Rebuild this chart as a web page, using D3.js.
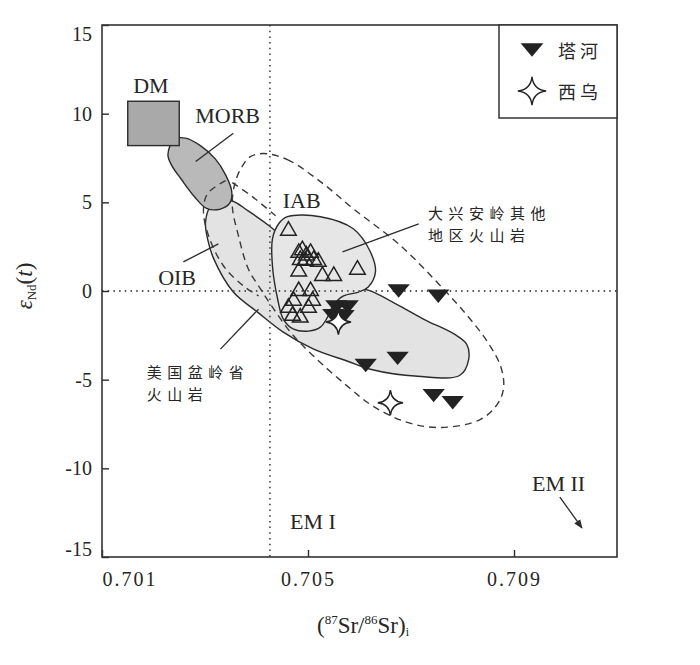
<!DOCTYPE html>
<html lang="zh">
<head>
<meta charset="UTF-8" />
<title>εNd(t) - (87Sr/86Sr)i</title>
<script src="https://d3js.org/d3.v7.min.js"></script>
<style>
  body { margin: 0; background: #fff; }
  svg text { fill: #262626; }
  .serif { font-family: "Liberation Serif", "DejaVu Serif", serif; }
  .cjk { font-family: "Noto Sans CJK SC", sans-serif; }
</style>
</head>
<body>
<svg id="chart" width="700" height="665"></svg>
<script>
// ---- data (Sr ratio, eNd) ----
const taheSr = [0.70676, 0.70753, 0.70555, 0.70577, 0.70549, 0.70569, 0.70674, 0.70612, 0.70744, 0.70781];
const taheNd = [0.0, -0.3, -0.9, -0.9, -1.4, -1.45, -3.8, -4.2, -5.9, -6.3];

const xiwuSr = [0.70559, 0.70660];
const xiwuNd = [-1.75, -6.3];

// other volcanic rocks of Da Hinggan Mts (open triangles)
const otherSr = [0.70462, 0.70482, 0.70489, 0.70497, 0.70505, 0.70485, 0.70495, 0.70511, 0.70520, 0.70482, 0.70528,
                 0.70550, 0.70596, 0.70482, 0.70505, 0.70472, 0.70509, 0.70462, 0.70501, 0.70470, 0.70485];
const otherNd = [3.4, 2.15, 2.3, 2.0, 2.15, 1.75, 1.7, 1.75, 1.65, 1.1, 0.85,
                 0.85, 1.2, 0.0, 0.0, -0.55, -0.55, -0.95, -0.95, -1.4, -1.5];

const yTicks = [-15, -10, -5, 0, 5, 10, 15];
const xTicks = [0.701, 0.705, 0.709];
const bulkEarth = [0.70426, 0];

// fields
const dmBox = [[0.7015, 8.2], [0.7025, 10.7]];
const morbField = [[0.70228, 7.7], [0.70240, 8.55], [0.70262, 8.62], [0.70291, 8.2], [0.70320, 7.45],
                   [0.70340, 6.55], [0.70352, 5.6], [0.70348, 4.95], [0.70330, 4.62], [0.70303, 4.66],
                   [0.70280, 5.3], [0.70254, 6.3], [0.70235, 7.1]];
const oibField = [[0.70350, 5.09], [0.70383, 4.53], [0.70427, 3.62], [0.70485, 2.09], [0.70563, 0.40],
                  [0.70608, 0.11], [0.70627, -0.06], [0.70724, -1.58], [0.70785, -2.45], [0.70808, -3.0],
                  [0.70812, -3.85], [0.70795, -4.75], [0.70713, -4.81], [0.70621, -4.41], [0.70577, -3.96],
                  [0.70511, -3.28], [0.70452, -2.32], [0.70402, -1.19], [0.70355, -0.06], [0.70317, 1.81],
                  [0.70305, 2.94], [0.70301, 3.90], [0.70311, 4.75]];
const otherField = [[0.70460, 4.19], [0.70524, 4.19], [0.70588, 3.51], [0.70621, 2.21], [0.70631, 1.08],
                    [0.70617, 0.23], [0.70598, -0.06], [0.70569, -0.28], [0.70548, -0.85], [0.70538, -1.47],
                    [0.70524, -2.04], [0.70501, -2.26], [0.70472, -2.15], [0.70452, -1.58], [0.70441, -0.45],
                    [0.70431, 1.41], [0.70431, 2.94], [0.70443, 3.79]];
const iabField = [[0.70414, 7.75], [0.70460, 7.41], [0.70524, 6.17], [0.70588, 4.64], [0.70680, 2.55],
                  [0.70763, 0.11], [0.70810, -1.41], [0.70849, -2.89], [0.70874, -4.24], [0.70880, -5.38],
                  [0.70870, -6.28], [0.70835, -7.24], [0.70757, -7.70], [0.70693, -7.41], [0.70627, -6.51],
                  [0.70577, -5.38], [0.70511, -3.68], [0.70466, -2.32], [0.70431, -0.91], [0.70408, 0.11],
                  [0.70384, 1.25], [0.70365, 3.11], [0.70353, 4.81], [0.70359, 6.17], [0.70373, 7.07], [0.70388, 7.58]];
const basinEdge = [[0.70340, 6.23], [0.70305, 5.49], [0.70297, 4.53], [0.70307, 3.11], [0.70336, 1.41],
                   [0.70375, 0.28], [0.70404, -0.28]];
const morbTie = [[0.70353, 6.11], [0.70392, 5.32], [0.70437, 4.24]];

const leaders = [
  [[0.70355, 8.89], [0.70282, 7.30]],
  [[0.70258, 1.64], [0.70326, 2.66]],
  [[0.70330, -3.28], [0.70404, -1.02]],
  [[0.70715, 3.79], [0.70567, 2.21]]
];
const emArrow = [[0.70989, -11.62], [0.71032, -13.36]];

const labels = [
  { t: ["DM"], sr: 0.70195, nd: 11.62, c: "serif", a: "middle" },
  { t: ["MORB"], sr: 0.70281, nd: 9.92, c: "serif", a: "start" },
  { t: ["IAB"], sr: 0.70451, nd: 5.13, c: "serif", a: "start" },
  { t: ["OIB"], sr: 0.70209, nd: 0.79, c: "serif", a: "start" },
  { t: ["EM I"], sr: 0.70465, nd: -12.97, c: "serif", a: "start" },
  { t: ["EM II"], sr: 0.70935, nd: -10.83, c: "serif", a: "start" },
  { t: ["美国盆岭省", "火山岩"], sr: 0.70187, nd: -4.5, c: "cjk", a: "start" },
  { t: ["大兴安岭其他", "地区火山岩"], sr: 0.70733, nd: 4.47, c: "cjk", a: "start" }
];

const legendNames = ["塔河", "西乌"];

// ---- drawing ----
const svg = d3.select("#chart");
const x = d3.scaleLinear().domain([0.701, 0.711]).range([102, 617]);
const y = d3.scaleLinear().domain([-15, 15]).range([557, 25]);
const ink = "#2b2b2b";

const closed = d3.line().x(d => x(d[0])).y(d => y(d[1])).curve(d3.curveCatmullRomClosed.alpha(0.5));
const open = d3.line().x(d => x(d[0])).y(d => y(d[1])).curve(d3.curveCatmullRom.alpha(0.5));

// custom symbols
const downTri = {
  draw(ctx, size) {
    const w = Math.sqrt(size), h = w * 0.6;
    ctx.moveTo(-w / 2, -h / 2);
    ctx.lineTo(w / 2, -h / 2);
    ctx.lineTo(0, h / 2);
    ctx.closePath();
  }
};
const star4 = {
  draw(ctx, size) {
    const R = Math.sqrt(size) / 2, c = 0.14 * R;
    const tips = [[0, -R], [R, 0], [0, R], [-R, 0]];
    ctx.moveTo(0, -R);
    for (let i = 0; i < 4; i++) {
      const a = tips[i], b = tips[(i + 1) % 4];
      const mx = (a[0] + b[0]) / 2, my = (a[1] + b[1]) / 2;
      const len = Math.hypot(mx, my);
      ctx.quadraticCurveTo(mx / len * c, my / len * c, b[0], b[1]);
    }
    ctx.closePath();
  }
};

// gray fields
svg.append("path").attr("d", closed(oibField))
  .attr("fill", "#e3e3e3").attr("stroke", ink).attr("stroke-width", 1.4);
svg.append("path").attr("d", closed(morbField))
  .attr("fill", "#b9b9b9").attr("stroke", ink).attr("stroke-width", 1.4);
svg.append("rect")
  .attr("x", x(dmBox[0][0])).attr("y", y(dmBox[1][1]))
  .attr("width", x(dmBox[1][0]) - x(dmBox[0][0]))
  .attr("height", y(dmBox[0][1]) - y(dmBox[1][1]))
  .attr("fill", "#a9a9a9").attr("stroke", ink).attr("stroke-width", 1.4);
svg.append("path").attr("d", closed(otherField))
  .attr("fill", "#e6e6e6").attr("stroke", ink).attr("stroke-width", 1.4);

// dotted reference lines
svg.append("line")
  .attr("x1", x(bulkEarth[0])).attr("x2", x(bulkEarth[0]))
  .attr("y1", y(15)).attr("y2", y(-15))
  .attr("stroke", "#555").attr("stroke-width", 1.8).attr("stroke-dasharray", "1.5,4.2");
svg.append("line")
  .attr("x1", x(0.701)).attr("x2", x(0.711))
  .attr("y1", y(bulkEarth[1])).attr("y2", y(bulkEarth[1]))
  .attr("stroke", "#555").attr("stroke-width", 1.8).attr("stroke-dasharray", "1.5,4.2");

// dashed fields
const dash = g => g.attr("fill", "none").attr("stroke", "#3a3a3a")
  .attr("stroke-width", 1.4).attr("stroke-dasharray", "7,5");
svg.append("path").attr("d", closed(iabField)).call(dash);
svg.append("path").attr("d", open(basinEdge)).call(dash);
svg.append("path").attr("d", open(morbTie)).call(dash);

// leader lines
svg.selectAll(".leader").data(leaders).enter().append("line")
  .attr("class", "leader")
  .attr("x1", d => x(d[0][0])).attr("y1", d => y(d[0][1]))
  .attr("x2", d => x(d[1][0])).attr("y2", d => y(d[1][1]))
  .attr("stroke", ink).attr("stroke-width", 1.3);

// EM II arrow
svg.append("defs").append("marker")
  .attr("id", "arr").attr("viewBox", "0 0 10 10").attr("refX", 9).attr("refY", 5)
  .attr("markerWidth", 7).attr("markerHeight", 7).attr("orient", "auto")
  .append("path").attr("d", "M0,1 L10,5 L0,9 Z").attr("fill", ink);
svg.append("line")
  .attr("x1", x(emArrow[0][0])).attr("y1", y(emArrow[0][1]))
  .attr("x2", x(emArrow[1][0])).attr("y2", y(emArrow[1][1]))
  .attr("stroke", ink).attr("stroke-width", 1.3).attr("marker-end", "url(#arr)");

// open triangles
svg.selectAll(".other").data(otherSr).enter().append("path")
  .attr("class", "other")
  .attr("transform", (d, i) => `translate(${x(d)},${y(otherNd[i])})`)
  .attr("d", d3.symbol().type(d3.symbolTriangle).size(105))
  .attr("fill", "none").attr("stroke", "#222").attr("stroke-width", 1.5);

// Tahe
svg.selectAll(".tahe").data(taheSr).enter().append("path")
  .attr("class", "tahe")
  .attr("transform", (d, i) => `translate(${x(d)},${y(taheNd[i])})`)
  .attr("d", d3.symbol().type(downTri).size(500))
  .attr("fill", "#222");

// Xiwu
svg.selectAll(".xiwu").data(xiwuSr).enter().append("path")
  .attr("class", "xiwu")
  .attr("transform", (d, i) => `translate(${x(d)},${y(xiwuNd[i])})`)
  .attr("d", d3.symbol().type(star4).size(640))
  .attr("fill", "#fff").attr("stroke", "#222").attr("stroke-width", 1.4);

// labels (multi-line ones as tspans)
const lbl = svg.selectAll(".lbl").data(labels).enter().append("text")
  .attr("class", d => d.c)
  .attr("text-anchor", d => d.a)
  .attr("dominant-baseline", "central")
  .attr("font-size", d => d.c === "cjk" ? 15 : 22)
  .attr("letter-spacing", d => d.c === "cjk" ? 5.5 : 0);
lbl.selectAll("tspan").data(d => d.t.map((s, i) => ({ s, i, p: d }))).enter().append("tspan")
  .attr("x", d => x(d.p.sr))
  .attr("y", d => y(d.p.nd) + d.i * 22)
  .text(d => d.s);

// axes
const yAxis = svg.append("g").attr("transform", `translate(${x(0.701)},0)`)
  .call(d3.axisLeft(y).tickValues(yTicks).tickSize(-7).tickPadding(10).tickFormat(d => String(d)));
const xAxis = svg.append("g").attr("transform", `translate(0,${y(-15)})`)
  .call(d3.axisBottom(x).tickValues(xTicks).tickSize(-7).tickPadding(15).tickFormat(d => d.toFixed(3)));
[yAxis, xAxis].forEach(g => {
  g.select(".domain").remove();
  g.selectAll(".tick line").attr("stroke", ink).attr("stroke-width", 1.4);
  g.selectAll("text").attr("class", "serif").attr("font-size", 20).attr("fill", ink);
});
xAxis.selectAll("text").attr("letter-spacing", 2);
xAxis.selectAll(".tick").filter(d => d === 0.701).select("text").attr("text-anchor", "start");
yAxis.selectAll(".tick").filter(d => d === 15).select("text").attr("dy", "0.75em");
yAxis.selectAll(".tick").filter(d => d === -15).select("text").attr("dy", "-0.1em");

// frame
svg.append("rect")
  .attr("x", x(0.701)).attr("y", y(15))
  .attr("width", x(0.711) - x(0.701)).attr("height", y(-15) - y(15))
  .attr("fill", "none").attr("stroke", "#333").attr("stroke-width", 1.6);

// legend
const lx = x(0.711) - 118, ly = y(15);
svg.append("rect").attr("x", lx).attr("y", ly).attr("width", 118).attr("height", 93)
  .attr("fill", "#fff").attr("stroke", "#333").attr("stroke-width", 1.5);
svg.append("path").attr("transform", `translate(${lx + 33},${ly + 25})`)
  .attr("d", d3.symbol().type(downTri).size(520)).attr("fill", "#222");
svg.append("path").attr("transform", `translate(${lx + 33},${ly + 66})`)
  .attr("d", d3.symbol().type(star4).size(800))
  .attr("fill", "#fff").attr("stroke", "#222").attr("stroke-width", 1.4);
svg.selectAll(".legtxt").data(legendNames).enter().append("text")
  .attr("class", "cjk")
  .attr("x", lx + 59).attr("y", (d, i) => ly + 25 + i * 41)
  .attr("dominant-baseline", "central")
  .attr("font-size", 18).attr("letter-spacing", 4)
  .text(d => d);

// axis titles
const yt = svg.append("text").attr("class", "serif")
  .attr("transform", "translate(32,286) rotate(-90)")
  .attr("text-anchor", "middle").attr("font-size", 23);
yt.append("tspan").attr("font-style", "italic").text("ε");
yt.append("tspan").attr("font-size", 13).attr("dy", 4).text("Nd");
yt.append("tspan").attr("dy", -4).text("(");
yt.append("tspan").attr("font-style", "italic").text("t");
yt.append("tspan").text(")");

const xt = svg.append("text").attr("class", "serif")
  .attr("x", 363).attr("y", 633).attr("text-anchor", "middle").attr("font-size", 23);
xt.append("tspan").text("(");
xt.append("tspan").attr("font-size", 13).attr("dy", -9).text("87");
xt.append("tspan").attr("dy", 9).text("Sr/");
xt.append("tspan").attr("font-size", 13).attr("dy", -9).text("86");
xt.append("tspan").attr("dy", 9).text("Sr)");
xt.append("tspan").attr("font-size", 12).attr("dy", 3).text("i");
</script>
</body>
</html>
